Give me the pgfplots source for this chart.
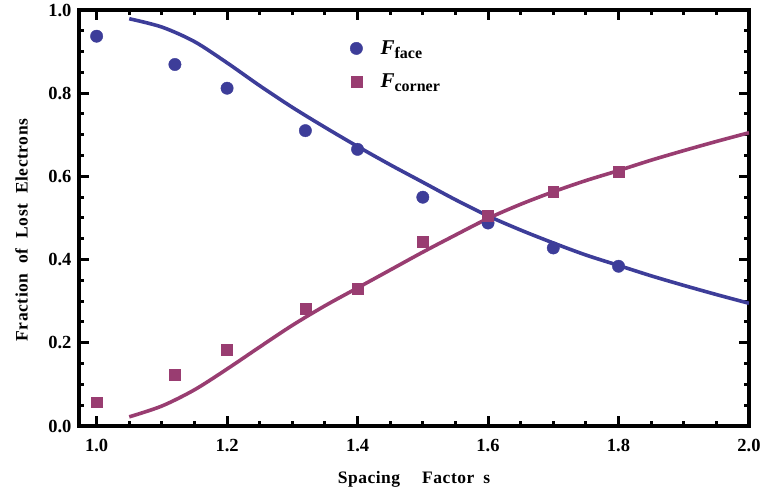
\documentclass[border=0pt]{standalone}
\usepackage{fontspec}
\setmainfont{Liberation Serif}
\newfontfamily\lblfont[LetterSpace=3]{Liberation Serif}
\usepackage{pgfplots}
\pgfplotsset{compat=1.18}
\definecolor{cface}{RGB}{61,61,153}
\definecolor{ccorner}{RGB}{153,61,113}

\begin{document}
\begin{tikzpicture}
\useasboundingbox (0,0) rectangle (761bp,492bp);
\begin{axis}[
  at={(79bp,66bp)}, anchor=south west,
  width=670bp, height=416bp, scale only axis,
  xmin=0.973, xmax=2.0, ymin=0, ymax=1,
  xtick={1.0,1.2,1.4,1.6,1.8,2.0},
  ytick={0,0.2,0.4,0.6,0.8,1.0},
  minor x tick num=3, minor y tick num=3,
  tick align=inside,
  major tick length=10bp, minor tick length=5bp,
  axis line style={line width=3.8bp},
  tick style={line width=3bp, black},
  ticklabel style={font=\fontsize{18.5bp}{18.5bp}\selectfont\bfseries},
  /pgf/number format/fixed,
  /pgf/number format/fixed zerofill,
  /pgf/number format/precision=1,
  /pgf/number format/assume math mode=true,
  xticklabel style={yshift=-10bp},
  yticklabel style={xshift=-4bp},
  xlabel={\lblfont\fontsize{17.5bp}{17.5bp}\selectfont\bfseries Spacing\hspace{22bp}Factor\hspace{9bp}s},
  ylabel={\lblfont\fontsize{17.5bp}{17.5bp}\selectfont\bfseries Fraction\hspace{10bp}of\hspace{10bp}Lost\hspace{10bp}Electrons},
  xlabel style={at={(axis description cs:0.5,-0.1274)}, anchor=center},
  ylabel style={at={(axis description cs:-0.0858,0.471)}, anchor=center},
  legend cell align=left,
  legend style={draw=none, fill=none, at={(axis description cs:0.40,0.936)}, anchor=north west,
    font=\fontsize{21bp}{21bp}\selectfont, row sep=14bp, column sep=16bp},
]
\addplot[no marks, smooth, line width=3.6bp, cface, forget plot] coordinates {
(1.05,0.979) (1.10,0.959) (1.15,0.924) (1.20,0.873) (1.25,0.818) (1.30,0.766)
(1.35,0.718) (1.40,0.672) (1.45,0.628) (1.50,0.586) (1.55,0.544) (1.60,0.505)
(1.65,0.471) (1.70,0.440) (1.75,0.411) (1.80,0.386) (1.85,0.361) (1.90,0.338)
(1.95,0.316) (2.00,0.295)};
\addplot[no marks, smooth, line width=3.6bp, ccorner, forget plot] coordinates {
(1.05,0.022) (1.10,0.048) (1.15,0.087) (1.20,0.137) (1.25,0.190) (1.30,0.242)
(1.35,0.289) (1.40,0.332) (1.45,0.375) (1.50,0.418) (1.55,0.459) (1.60,0.499)
(1.65,0.533) (1.70,0.563) (1.75,0.590) (1.80,0.614) (1.85,0.639) (1.90,0.662)
(1.95,0.684) (2.00,0.705)};
\addplot[only marks, mark=*, mark size=6.2bp, color=cface, mark options={draw=cface, fill=cface}] coordinates {
(1.00,0.937) (1.12,0.869) (1.20,0.812) (1.32,0.710) (1.40,0.665) (1.50,0.550)
(1.60,0.488) (1.70,0.428) (1.80,0.384)};
\addlegendentry{\textbf{\textit{F}}\raisebox{-4bp}{\fontsize{16bp}{16bp}\selectfont\bfseries face}}
\addplot[only marks, mark=square*, mark size=5.4bp, color=ccorner, mark options={draw=ccorner, fill=ccorner}] coordinates {
(1.00,0.057) (1.12,0.123) (1.20,0.184) (1.32,0.282) (1.40,0.331) (1.50,0.443)
(1.60,0.505) (1.70,0.564) (1.80,0.611)};
\addlegendentry{\textbf{\textit{F}}\raisebox{-4bp}{\fontsize{16bp}{16bp}\selectfont\bfseries corner}}
\end{axis}
\end{tikzpicture}
\end{document}
